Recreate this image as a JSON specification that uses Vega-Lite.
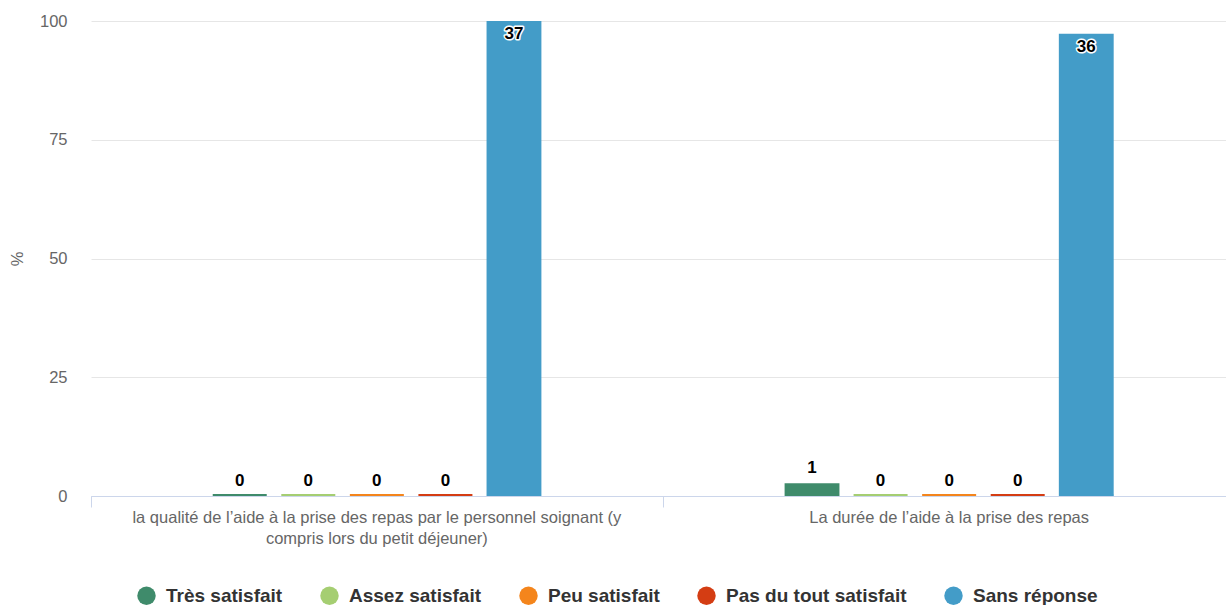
{
  "$schema": "https://vega.github.io/schema/vega-lite/v6.json",
  "width": 1135,
  "height": 475,
  "autosize": "none",
  "padding": {"left": 91, "top": 21, "right": 0, "bottom": 109},
  "config": {
    "font": "Liberation Sans",
    "view": {"stroke": null},
    "axis": {"labelColor": "#666666", "labelFontSize": 16.5, "labelFont": "Liberation Sans", "domainColor": "#ccd6eb", "tickColor": "#ccd6eb", "gridColor": "#e6e6e6", "titleColor": "#666666", "titleFontWeight": "normal", "titleFontSize": 16.5, "titleFont": "Liberation Sans"}
  },
  "data": {
    "values": [
      {"question": "la qualité de l’aide à la prise des repas par le personnel soignant (y\ncompris lors du petit déjeuner)", "response": "Très satisfait", "pct": 0, "n": 0},
      {"question": "la qualité de l’aide à la prise des repas par le personnel soignant (y\ncompris lors du petit déjeuner)", "response": "Assez satisfait", "pct": 0, "n": 0},
      {"question": "la qualité de l’aide à la prise des repas par le personnel soignant (y\ncompris lors du petit déjeuner)", "response": "Peu satisfait", "pct": 0, "n": 0},
      {"question": "la qualité de l’aide à la prise des repas par le personnel soignant (y\ncompris lors du petit déjeuner)", "response": "Pas du tout satisfait", "pct": 0, "n": 0},
      {"question": "la qualité de l’aide à la prise des repas par le personnel soignant (y\ncompris lors du petit déjeuner)", "response": "Sans réponse", "pct": 100, "n": 37},
      {"question": "La durée de l’aide à la prise des repas", "response": "Très satisfait", "pct": 2.7, "n": 1},
      {"question": "La durée de l’aide à la prise des repas", "response": "Assez satisfait", "pct": 0, "n": 0},
      {"question": "La durée de l’aide à la prise des repas", "response": "Peu satisfait", "pct": 0, "n": 0},
      {"question": "La durée de l’aide à la prise des repas", "response": "Pas du tout satisfait", "pct": 0, "n": 0},
      {"question": "La durée de l’aide à la prise des repas", "response": "Sans réponse", "pct": 97.3, "n": 36}
    ]
  },
  "encoding": {
    "x": {"field": "question", "type": "nominal", "sort": null, "scale": {"range": [0, 1144], "paddingInner": 0.401, "paddingOuter": 0.2}, "axis": null},
    "xOffset": {"field": "response", "type": "nominal", "sort": ["Très satisfait", "Assez satisfait", "Peu satisfait", "Pas du tout satisfait", "Sans réponse"], "scale": {"paddingInner": 0.2, "paddingOuter": 0.1}},
    "color": {
      "field": "response", "type": "nominal",
      "sort": ["Très satisfait", "Assez satisfait", "Peu satisfait", "Pas du tout satisfait", "Sans réponse"],
      "scale": {"domain": ["Très satisfait", "Assez satisfait", "Peu satisfait", "Pas du tout satisfait", "Sans réponse"], "range": ["#3f8b6b", "#a5ce72", "#f4851c", "#d43d13", "#439cc8"]},
      "legend": {"title": null, "orient": "none", "direction": "horizontal", "legendX": 46, "legendY": 565, "symbolType": "circle", "symbolSize": 340, "symbolStrokeWidth": 0, "symbolOpacity": 1, "labelFontSize": 19, "labelFontWeight": "bold", "labelColor": "#333333", "labelFont": "Liberation Sans", "labelOffset": 10, "columnPadding": 37, "labelLimit": 400}
    }
  },
  "layer": [
    {
      "mark": {"type": "bar", "opacity": 1},
      "encoding": {
        "y": {"field": "pct", "type": "quantitative", "scale": {"domain": [0, 100], "nice": false}, "axis": {"title": "%", "values": [0, 25, 50, 75, 100], "domain": false, "ticks": false, "labelPadding": 24, "titlePadding": 14, "grid": true}},
        "x": {"field": "question", "type": "nominal", "sort": null, "axis": {"title": null, "orient": "bottom", "labelAngle": 0, "ticks": false, "labelPadding": 13, "labelLineHeight": 21, "labelBaseline": "top", "labelLimit": 700, "labelExpr": "split(datum.value, '\\n')", "grid": false}}
      }
    },
    {
      "mark": {"type": "tick", "thickness": 2, "size": 54, "yOffset": -1, "opacity": 1},
      "encoding": {
        "y": {"datum": 0, "type": "quantitative"},
        "x": {"field": "question", "type": "nominal", "sort": null, "axis": {"title": null, "orient": "bottom", "labels": false, "domain": true, "ticks": true, "tickSize": 11, "bandPosition": -0.333, "grid": false}}
      }
    },
    {
      "transform": [{"filter": "datum.pct < 90"}],
      "mark": {"type": "text", "baseline": "bottom", "dy": -6, "fontSize": 17, "fontWeight": "bold", "font": "Liberation Sans"},
      "encoding": {
        "y": {"field": "pct", "type": "quantitative"},
        "text": {"field": "n", "type": "quantitative"},
        "color": {"value": "#000000"}
      }
    },
    {
      "transform": [{"filter": "datum.pct >= 90"}],
      "mark": {"type": "text", "baseline": "top", "dy": 5, "fontSize": 17, "fontWeight": "bold", "stroke": "#ffffff", "strokeWidth": 3, "strokeJoin": "round", "font": "Liberation Sans"},
      "encoding": {
        "y": {"field": "pct", "type": "quantitative"},
        "text": {"field": "n", "type": "quantitative"},
        "color": {"value": "#ffffff"}
      }
    },
    {
      "transform": [{"filter": "datum.pct >= 90"}],
      "mark": {"type": "text", "baseline": "top", "dy": 5, "fontSize": 17, "fontWeight": "bold", "font": "Liberation Sans"},
      "encoding": {
        "y": {"field": "pct", "type": "quantitative"},
        "text": {"field": "n", "type": "quantitative"},
        "color": {"value": "#000000"}
      }
    }
  ],
  "resolve": {"axis": {"x": "independent"}}
}
